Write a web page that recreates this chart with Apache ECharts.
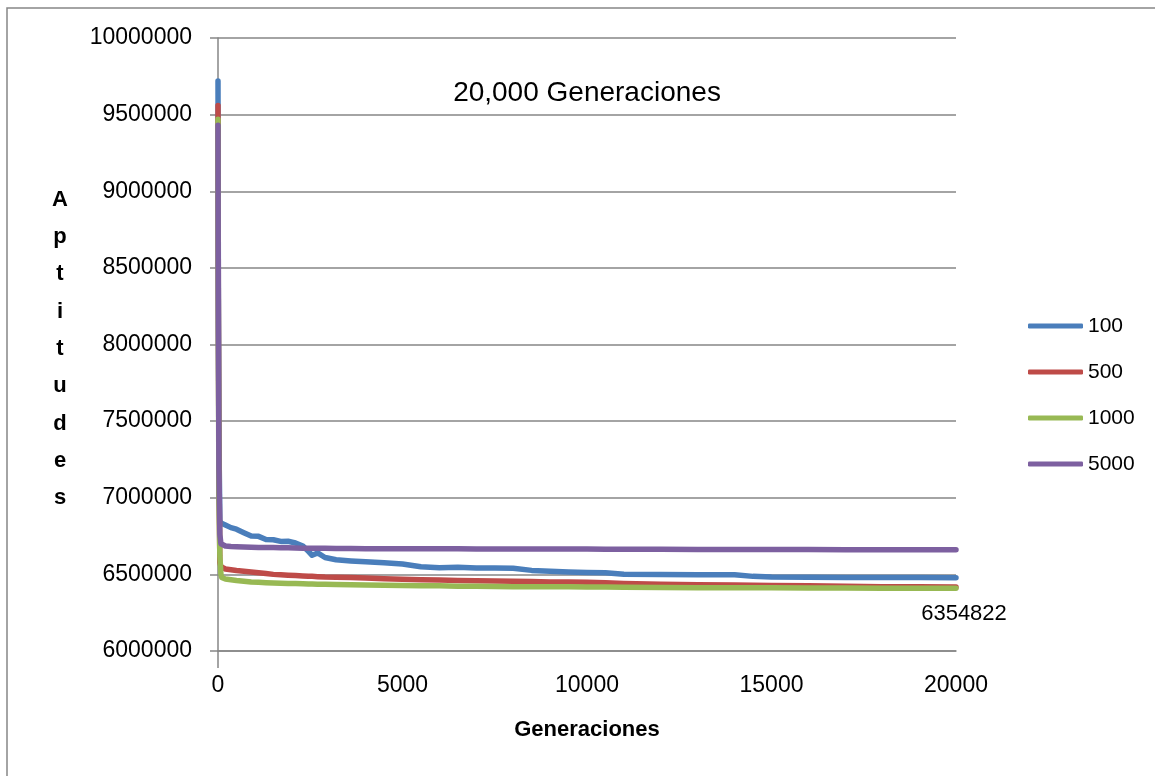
<!DOCTYPE html>
<html>
<head>
<meta charset="utf-8">
<title>20,000 Generaciones</title>
<script src="https://cdn.jsdelivr.net/npm/echarts@6/dist/echarts.min.js"></script>
<style>
  html, body { margin: 0; padding: 0; background: #ffffff; }
  #chart { width: 1155px; height: 776px; }
</style>
</head>
<body>
<div id="chart"></div>
<script>
// Generation at which each fitness value was sampled (shared by all runs)
const generations = [0, 10, 25, 50, 80, 100, 200, 350, 500, 700, 900, 1100, 1300, 1500, 1700, 1900,
  2100, 2300, 2450, 2550, 2700, 2900, 3200, 3600, 4000, 4500, 5000, 5500, 6000, 6500, 7000, 7500,
  8000, 8500, 9000, 9500, 10000, 10500, 11000, 12000, 13000, 14000, 14500, 15000, 16000, 17000,
  18000, 19000, 20000];

// Best fitness per generation, one list per population size
const pop100 = [9720000, 8400000, 7400000, 6850000, 6835000, 6828000, 6822000, 6805000, 6795000,
  6772000, 6750000, 6748000, 6728000, 6726000, 6715000, 6716000, 6705000, 6685000, 6650000, 6625000,
  6640000, 6610000, 6595000, 6588000, 6582000, 6576000, 6568000, 6550000, 6543000, 6546000, 6542000,
  6541000, 6540000, 6526000, 6520000, 6515000, 6512000, 6510000, 6501000, 6500000, 6498000, 6497000,
  6487000, 6483000, 6481000, 6480000, 6480000, 6479000, 6478000];

const pop500 = [9560000, 8300000, 7200000, 6580000, 6550000, 6540000, 6535000, 6530000, 6525000,
  6520000, 6515000, 6510000, 6505000, 6500000, 6498000, 6495000, 6492000, 6490000, 6488000, 6487000,
  6485000, 6483000, 6482000, 6480000, 6476000, 6472000, 6468000, 6465000, 6463000, 6460000, 6458000,
  6457000, 6455000, 6453000, 6451000, 6450000, 6448000, 6445000, 6440000, 6435000, 6432000, 6430000,
  6429000, 6428000, 6425000, 6423000, 6420000, 6419000, 6418000];

const pop1000 = [9470000, 8000000, 7000000, 6620000, 6500000, 6480000, 6470000, 6465000, 6460000,
  6455000, 6450000, 6448000, 6445000, 6443000, 6442000, 6441000, 6440000, 6439000, 6438000, 6437000,
  6436000, 6435000, 6434000, 6432000, 6430000, 6429000, 6428000, 6426000, 6425000, 6423000, 6422000,
  6421000, 6420000, 6419500, 6419000, 6418500, 6418000, 6417000, 6416000, 6414000, 6413000, 6412500,
  6412000, 6412000, 6411000, 6411000, 6410000, 6410000, 6410000];

const pop5000 = [9430000, 8100000, 7200000, 6760000, 6700000, 6690000, 6685000, 6682000, 6680000,
  6678000, 6677000, 6676000, 6675000, 6675000, 6674000, 6673000, 6672000, 6671000, 6671000, 6670000,
  6670000, 6670000, 6669000, 6669000, 6668000, 6668000, 6668000, 6667000, 6667000, 6667000, 6666000,
  6666000, 6666000, 6665000, 6665000, 6665000, 6665000, 6664000, 6664000, 6664000, 6663000, 6663000,
  6663000, 6662000, 6662000, 6661000, 6661000, 6660000, 6660000];

const seriesNames = ['100', '500', '1000', '5000'];
const seriesValues = [pop100, pop500, pop1000, pop5000];
const seriesColors = ['#4A7EBB', '#BE4B48', '#98B954', '#7D60A0'];

// Annotated final result
const annotatedGeneration = 20000;
const annotatedValue = 6354822;

// Axis tick values
const yTicks = [6000000, 6500000, 7000000, 7500000, 8000000, 8500000, 9000000, 9500000, 10000000];
const xTicks = [0, 5000, 10000, 15000, 20000];

const titleText = '20,000 Generaciones';
const xAxisTitle = 'Generaciones';
const yAxisTitle = 'Aptitudes';

const gridColor = '#868686';
const font = '"Liberation Sans", Arial, sans-serif';

const chart = echarts.init(document.getElementById('chart'), null, { renderer: 'canvas' });

const lineSeries = seriesNames.map((name, i) => ({
  name: name,
  type: 'line',
  showSymbol: false,
  symbol: 'none',
  z: 2 + i,
  lineStyle: { width: 5.5, color: seriesColors[i], cap: 'round', join: 'round' },
  itemStyle: { color: seriesColors[i] },
  data: generations.map((g, k) => [g, seriesValues[i][k]])
}));

const plainNumber = v => String(v);

const option = {
  animation: false,
  backgroundColor: '#ffffff',
  grid: { left: 218, right: 199, top: 38, bottom: 125, containLabel: false },
  xAxis: {
    type: 'value',
    min: xTicks[0],
    max: xTicks[xTicks.length - 1],
    interval: 5000,
    axisLine: { show: true, lineStyle: { color: gridColor, width: 1.5 } },
    axisTick: { show: true, customValues: [0], length: 17, lineStyle: { color: gridColor, width: 1.5 } },
    splitLine: { show: false },
    axisLabel: { margin: 23, fontSize: 23, color: '#000000', fontFamily: font, formatter: plainNumber }
  },
  yAxis: {
    type: 'value',
    min: yTicks[0],
    max: yTicks[yTicks.length - 1],
    interval: 500000,
    axisLine: { show: true, lineStyle: { color: gridColor, width: 1.5 } },
    axisTick: { show: true, length: 8, lineStyle: { color: gridColor, width: 1.5 } },
    splitLine: { show: true, lineStyle: { color: gridColor, width: 1.5 } },
    axisLabel: { margin: 26, fontSize: 23, color: '#000000', fontFamily: font, formatter: plainNumber }
  },
  legend: {
    data: seriesNames,
    orient: 'vertical',
    left: 1023,
    top: 309,
    itemWidth: 55,
    itemHeight: 5,
    itemGap: 22,
    icon: 'roundRect',
    textStyle: { fontSize: 21, color: '#000000', fontFamily: font, lineHeight: 24 }
  },
  series: lineSeries.concat([{
    name: 'final',
    type: 'scatter',
    symbolSize: 0,
    z: 10,
    silent: true,
    data: [[annotatedGeneration, annotatedValue]],
    label: {
      show: true,
      position: 'bottom',
      distance: 6,
      offset: [8, 0],
      fontSize: 22,
      color: '#000000',
      opacity: 1,
      fontFamily: font,
      formatter: p => String(p.value[1])
    }
  }]),
  graphic: [
    {
      type: 'rect',
      shape: { x: 7, y: 8, width: 1200, height: 820 },
      style: { fill: 'none', stroke: gridColor, lineWidth: 1.5 },
      silent: true,
      z: -10
    },
    {
      type: 'text',
      x: 587,
      y: 93,
      style: {
        text: titleText,
        fontSize: 28,
        fontFamily: font,
        fill: '#000000',
        align: 'center',
        verticalAlign: 'middle'
      }
    },
    {
      type: 'text',
      x: 587,
      y: 730,
      style: {
        text: xAxisTitle,
        fontSize: 22,
        fontWeight: 'bold',
        fontFamily: font,
        fill: '#000000',
        align: 'center',
        verticalAlign: 'middle'
      }
    },
    {
      type: 'text',
      x: 60,
      y: 349,
      style: {
        text: yAxisTitle.split('').join('\n'),
        fontSize: 22,
        fontWeight: 'bold',
        fontFamily: font,
        lineHeight: 37.3,
        fill: '#000000',
        align: 'center',
        verticalAlign: 'middle'
      }
    }
  ]
};

chart.setOption(option);
</script>
</body>
</html>
